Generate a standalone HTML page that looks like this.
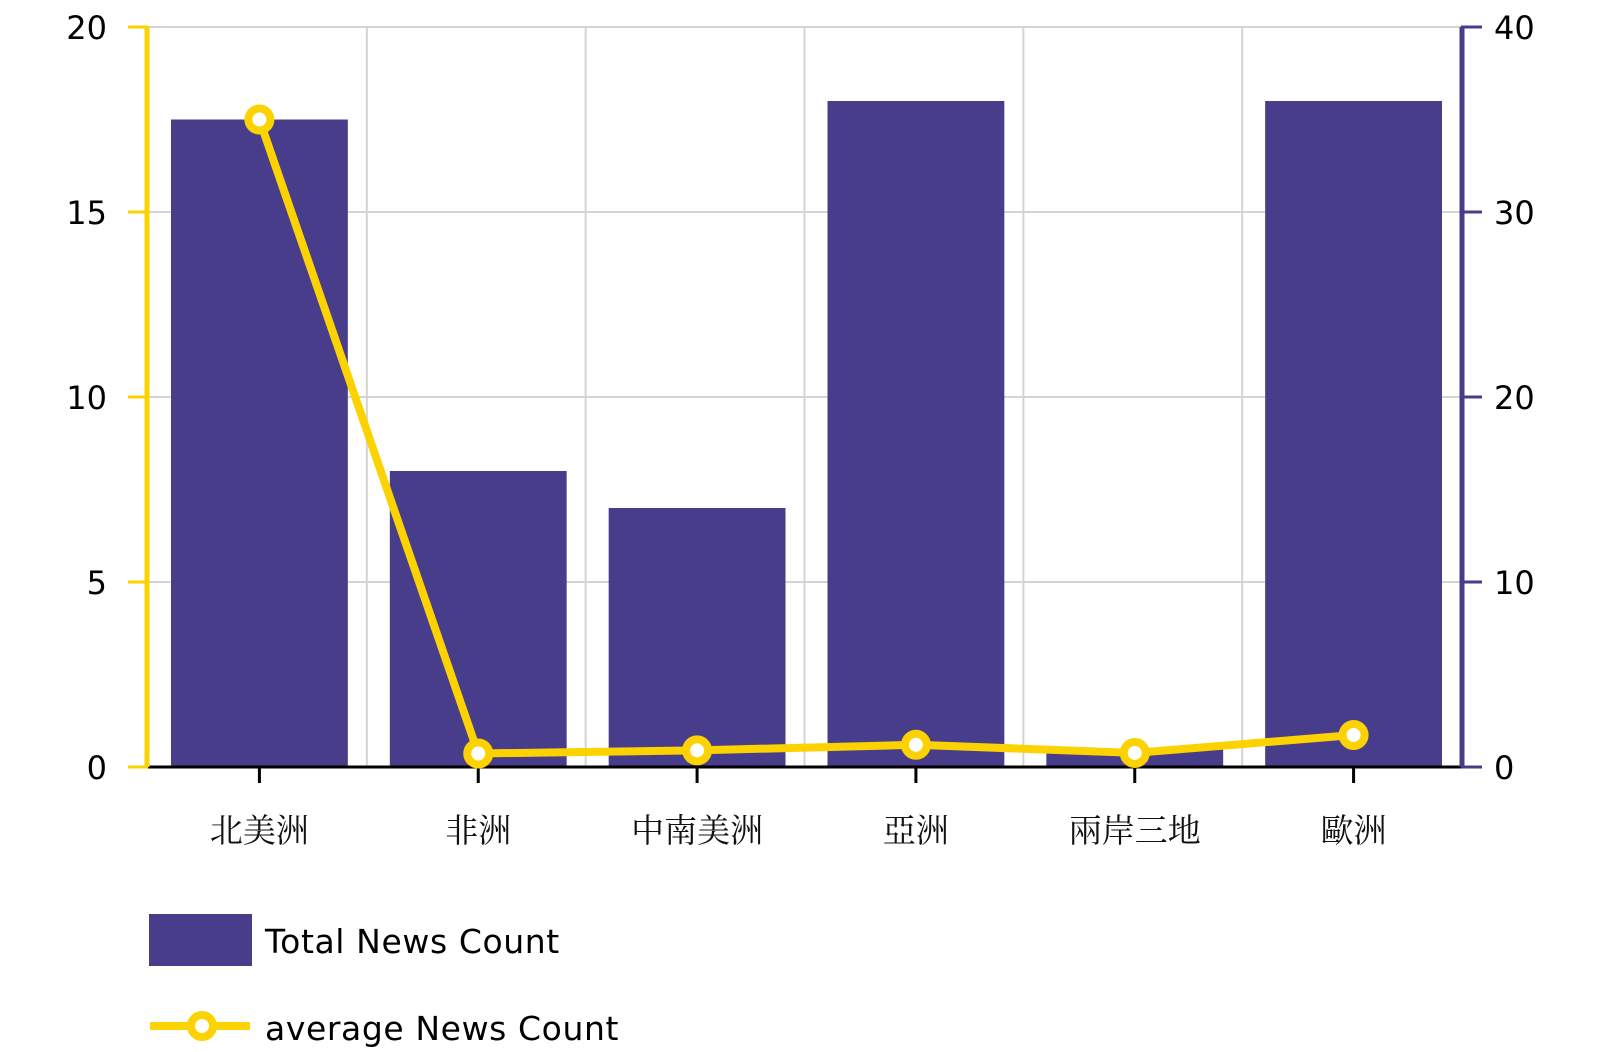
<!DOCTYPE html>
<html><head><meta charset="utf-8">
<style>
html,body{margin:0;padding:0;background:#fff;}
svg{display:block;}
.tick{font-family:"DejaVu Sans","Liberation Sans",sans-serif;font-size:32px;fill:#000;}
.cat{font-family:"Liberation Serif","Noto Serif CJK SC",serif;font-size:33px;fill:#111;}
.leg{font-family:"DejaVu Sans","Liberation Sans",sans-serif;font-size:33px;letter-spacing:0.6px;fill:#000;}
</style></head>
<body>
<svg id="chart" width="1602" height="1052" xmlns="http://www.w3.org/2000/svg"></svg>
<script>
const categories = ["北美洲","非洲","中南美洲","亞洲","兩岸三地","歐洲"];
const totalNews = [17.5, 8, 7, 18, 0.5, 18];
const avgNews = [35, 0.73, 0.9, 1.2, 0.76, 1.73];
const leftTicks = [0,5,10,15,20];
const rightTicks = [0,10,20,30,40];

const NS="http://www.w3.org/2000/svg";
const svg=document.getElementById('chart');
const L=148,R=1461,T=27,B=767;
const bw=(R-L)/categories.length;
const yL=v=>B-(v/20)*(B-T);
const yR=v=>B-(v/40)*(B-T);
const xC=i=>L+bw*(i+0.5)+2;
function mk(tag,attrs,parent){const e=document.createElementNS(NS,tag);for(const k in attrs)e.setAttribute(k,attrs[k]);(parent||svg).appendChild(e);return e;}

leftTicks.forEach(t=>{
  const g=mk('line',{x1:L,x2:R,y1:yL(t),y2:yL(t),stroke:'#d4d4d4','stroke-width':2});
  
  
});
for(let i=1;i<categories.length;i++){
  const g=mk('line',{x1:L+bw*i,x2:L+bw*i,y1:T,y2:B,stroke:'#d4d4d4','stroke-width':2});
  
  
}
categories.forEach((c,i)=>{
  const x=L+bw*i+23,w=bw-42;
  const b=mk('rect',{x:x,y:yL(totalNews[i]),width:w,height:B-yL(totalNews[i]),fill:'#483d8b'});
  
  
});
const xa=mk('line',{x1:L,x2:R,y1:B,y2:B,stroke:'#000','stroke-width':3});


categories.forEach((c,i)=>{
  const t=mk('line',{x1:xC(i),x2:xC(i),y1:B,y2:B+16,stroke:'#000','stroke-width':3});
  
  
  const tx=mk('text',{x:xC(i),y:842,'text-anchor':'middle',class:'cat'});
  tx.textContent=c;
  
  
});
const la=mk('line',{x1:L-1,x2:L-1,y1:T,y2:B,stroke:'#fcd200','stroke-width':5});


leftTicks.forEach(t=>{
  const k=mk('line',{x1:128,x2:L,y1:yL(t),y2:yL(t),stroke:'#fcd200','stroke-width':3});
  
  
  const tx=mk('text',{x:107,y:yL(t)+12,'text-anchor':'end',class:'tick'});
  tx.textContent=t;
  
  
});
const ra=mk('line',{x1:R+1,x2:R+1,y1:T,y2:B,stroke:'#483d8b','stroke-width':5});


rightTicks.forEach(t=>{
  const k=mk('line',{x1:R,x2:R+21,y1:yR(t),y2:yR(t),stroke:'#483d8b','stroke-width':3});
  
  
  const tx=mk('text',{x:1494,y:yR(t)+12,'text-anchor':'start',class:'tick'});
  tx.textContent=t;
  
  
});
const pts=avgNews.map((v,i)=>xC(i)+','+yR(v)).join(' ');
const pl=mk('polyline',{points:pts,fill:'none',stroke:'#fcd200','stroke-width':8,'stroke-linejoin':'round'});


avgNews.forEach((v,i)=>{
  const c=mk('circle',{cx:xC(i),cy:yR(v),r:11,fill:'#fff',stroke:'#fcd200','stroke-width':8});
  
  
});
const lr=mk('rect',{x:149,y:914,width:103,height:52,fill:'#483d8b'});


const lt=mk('text',{x:265,y:953,class:'leg'});
lt.textContent='Total News Count';


const ll=mk('line',{x1:150,x2:250,y1:1026,y2:1026,stroke:'#fcd200','stroke-width':8});


const lc=mk('circle',{cx:202,cy:1026,r:11,fill:'#fff',stroke:'#fcd200','stroke-width':8});


const lt2=mk('text',{x:265,y:1040,class:'leg'});
lt2.textContent='average News Count';


</script>
</body></html>
